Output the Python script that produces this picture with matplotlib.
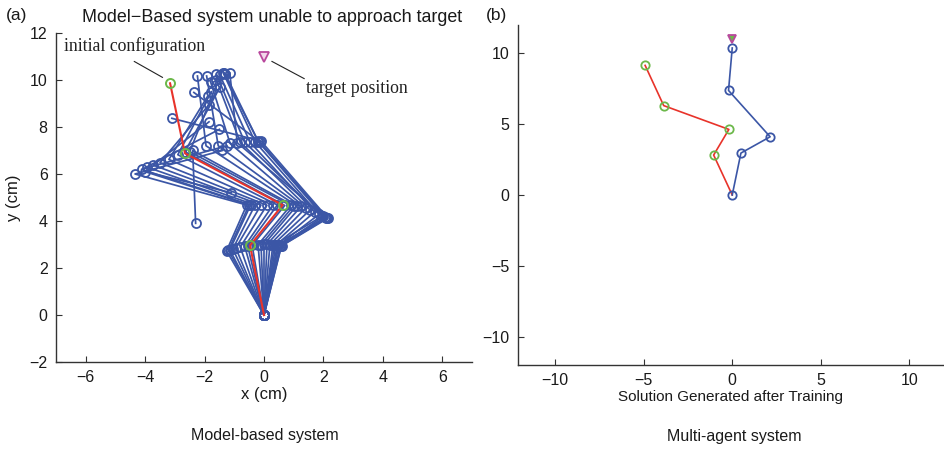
import numpy as np
import matplotlib.pyplot as plt

plt.rcParams['font.family'] = ['Liberation Sans', 'DejaVu Sans']

# Posiciones de las articulaciones del brazo (cm), la base esta en el origen.
# Configuracion inicial (roja).
init_x = [0, -0.47, 0.63, -2.66, -3.16]
init_y = [0, 2.96, 4.68, 6.88, 9.86]

# Configuraciones sucesivas del sistema basado en modelo.
arms_x = [
    [0, -0.55, 0.45, -2.90, -1.77],
    [0, -0.65, 0.30, -3.20, -1.90],
    [0, -0.80, 0.10, -3.50, -1.85],
    [0, -0.95, -0.10, -3.73, -1.85],
    [0, -1.05, -0.30, -3.95, -1.50],
    [0, -1.15, -0.45, -4.12, -1.25],
    [0, -1.26, -0.58, -4.34, -1.40],
    [0, -1.20, -0.50, -4.00, -1.10],
    [0, -0.10, 1.00, -2.40, -2.30],
    [0, -0.40, 0.70, -2.66, -1.48],
    [0, -0.20, 0.90, -2.50, -1.60],
    [0, 0.00, 1.10, -1.95, -2.24],
    [0, 0.10, 1.25, -1.54, -1.93],
    [0, 0.20, 1.40, -1.14, -1.80],
    [0, 0.30, 1.55, -0.80, -1.60],
    [0, 0.40, 1.70, -0.47, -1.48],
    [0, 0.48, 1.85, -0.30, -1.37],
    [0, 0.55, 2.00, -0.19, -1.30],
    [0, 0.59, 2.15, -0.10, -3.10],
    [0, 0.58, 2.12, -0.20, -1.35],
    [0, 0.50, 2.05, -0.15, -2.36],
    [0, 0.35, 1.95, -0.65, -1.60],
    [0, 0.45, 2.10, -0.90, -1.15],
]
arms_y = [
    [0, 2.95, 4.68, 6.82, 9.50],
    [0, 2.93, 4.67, 6.62, 9.30],
    [0, 2.89, 4.67, 6.48, 8.95],
    [0, 2.85, 4.68, 6.38, 8.22],
    [0, 2.81, 4.68, 6.30, 7.90],
    [0, 2.77, 4.68, 6.20, 7.20],
    [0, 2.73, 4.68, 6.00, 7.00],
    [0, 2.75, 4.68, 6.10, 5.20],
    [0, 2.99, 4.65, 7.00, 3.90],
    [0, 2.97, 4.66, 6.95, 9.70],
    [0, 2.99, 4.66, 6.95, 9.80],
    [0, 3.00, 4.65, 7.20, 10.17],
    [0, 3.00, 4.62, 7.20, 10.17],
    [0, 2.99, 4.55, 7.30, 9.93],
    [0, 2.98, 4.47, 7.35, 10.00],
    [0, 2.97, 4.38, 7.35, 10.20],
    [0, 2.96, 4.28, 7.37, 10.30],
    [0, 2.95, 4.20, 7.38, 10.25],
    [0, 2.94, 4.12, 7.40, 8.37],
    [0, 2.94, 4.13, 7.40, 10.28],
    [0, 2.96, 4.15, 7.38, 9.47],
    [0, 2.98, 4.20, 7.35, 10.25],
    [0, 2.97, 4.12, 7.33, 10.30],
]

# Sistema multi-agente: configuracion inicial y solucion final.
start_x = [0, -1.05, -0.19, -3.87, -4.92]
start_y = [0, 2.82, 4.63, 6.31, 9.15]
final_x = [0, 0.49, 2.14, -0.21, 0.00]
final_y = [0, 2.96, 4.11, 7.38, 10.38]

target_x = 0.0
target_y = 11.0

azul = '#3b56a6'
rojo = '#e8332a'
verde = '#6cb84a'
magenta = '#b9489d'
gris = '#333333'


def estilo(ax):
    for s in ['top', 'right']:
        ax.spines[s].set_visible(False)
    for s in ['left', 'bottom']:
        ax.spines[s].set_color(gris)
        ax.spines[s].set_linewidth(1.0)
    ax.tick_params(direction='in', length=4, width=0.8, colors=gris,
                   labelsize=11.5, labelcolor='#1a1a1a', pad=6)


fig = plt.figure(figsize=(9.44, 4.49), dpi=100)

# (a) Sistema basado en modelo.
ax1 = fig.add_axes([0.0593, 0.1938, 0.4407, 0.7327])
for xs, ys in zip(arms_x, arms_y):
    ax1.plot(xs, ys, '-o', color=azul, lw=1.25, ms=6.5, mfc='none', mew=1.3)
ax1.plot(init_x, init_y, '-', color=rojo, lw=1.5)
ax1.plot(init_x[1:], init_y[1:], 'o', color=verde, ms=6.5, mfc='none', mew=1.4)
ax1.plot(target_x, target_y, 'v', color=magenta, ms=7, mfc='#f3d6ea', mew=1.3)

ax1.annotate('', xy=(-3.33, 10.05), xytext=(-4.45, 10.85),
             arrowprops=dict(arrowstyle='-', lw=0.8, color='#222222'))
ax1.annotate('', xy=(0.18, 10.85), xytext=(1.44, 10.0),
             arrowprops=dict(arrowstyle='-', lw=0.8, color='#222222'))
ax1.text(-6.72, 11.45, 'initial configuration', family='Liberation Serif',
         fontsize=12.8, va='center', ha='left', color='#222222')
ax1.text(1.42, 9.62, 'target position', family='Liberation Serif',
         fontsize=12.8, va='center', ha='left', color='#222222')

ax1.set_xlim(-7, 7)
ax1.set_ylim(-2, 12)
ax1.set_xticks([-6, -4, -2, 0, 2, 4, 6])
ax1.set_yticks([-2, 0, 2, 4, 6, 8, 10, 12])
ax1.set_xticklabels(['\u22126', '\u22124', '\u22122', '0', '2', '4', '6'])
ax1.set_yticklabels(['\u22122', '0', '2', '4', '6', '8', '10', '12'])
estilo(ax1)
ax1.set_xlabel('x (cm)', fontsize=12, labelpad=1, color='#1a1a1a')
ax1.set_ylabel('y (cm)', fontsize=12, labelpad=6, color='#1a1a1a')
ax1.set_title('Model\u2212Based system unable to approach target',
              fontsize=12.9, color='#1a1a1a', x=0.52, pad=8)

# (b) Sistema multi-agente.
ax2 = fig.add_axes([0.5487, 0.1871, 0.4502, 0.7572])
ax2.plot(start_x, start_y, '-', color=rojo, lw=1.2)
ax2.plot(start_x[1:], start_y[1:], 'o', color=verde, ms=6, mfc='none', mew=1.3)
ax2.plot(final_x, final_y, '-o', color=azul, lw=1.2, ms=6, mfc='none', mew=1.3)
ax2.plot(target_x, target_y, 'v', color=magenta, ms=6, mfc=verde, mew=1.3)

ax2.set_xlim(-12.1, 11.9)
ax2.set_ylim(-12, 12)
ax2.set_xticks([-10, -5, 0, 5, 10])
ax2.set_yticks([-10, -5, 0, 5, 10])
ax2.set_xticklabels(['\u221210', '\u22125', '0', '5', '10'])
ax2.set_yticklabels(['\u221210', '\u22125', '0', '5', '10'])
estilo(ax2)
ax2.set_xlabel('Solution Generated after Training', fontsize=11,
               labelpad=1, color='#1a1a1a')

fig.text(0.006, 0.965, '(a)', fontsize=12.5, color='#1a1a1a', va='center')
fig.text(0.515, 0.965, '(b)', fontsize=12.5, color='#1a1a1a', va='center')
fig.text(0.281, 0.029, 'Model-based system', fontsize=11.5, ha='center',
         va='center', color='#1a1a1a')
fig.text(0.778, 0.027, 'Multi-agent system', fontsize=11.5, ha='center',
         va='center', color='#1a1a1a')

fig.savefig('out.png', dpi=100, facecolor='white')
